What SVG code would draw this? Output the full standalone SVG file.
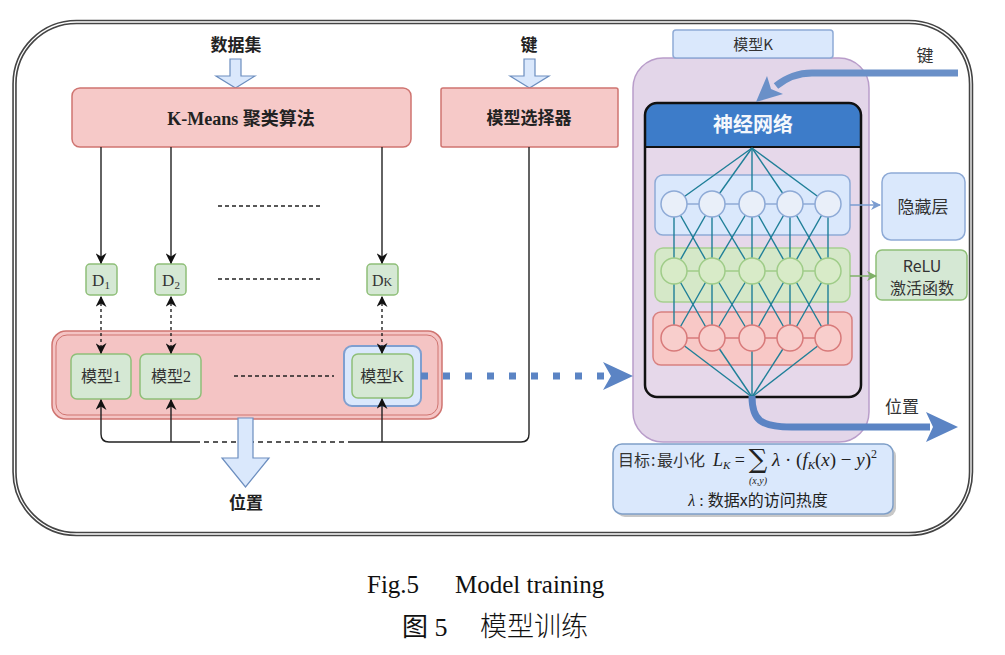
<svg xmlns="http://www.w3.org/2000/svg" width="1005" height="655" viewBox="0 0 1005 655">
<defs>
<style>
.cjkb{font-family:"Noto Sans CJK SC","Noto Sans",sans-serif;font-weight:bold;fill:#222}
.cjk{font-family:"Noto Sans CJK SC","Noto Sans",sans-serif;fill:#333}
.ser{font-family:"Liberation Serif","Noto Sans CJK SC",serif;fill:#333}
.pink{fill:#f6c9c8;stroke:#cf7470;stroke-width:1.5}
.green{fill:#d5e8d4;stroke:#8fbf78;stroke-width:1.5}
.blue{fill:#dae8fc;stroke:#8eaad6;stroke-width:1.5}
.hol{fill:#dae8fc;stroke:#6c8ebf;stroke-width:1.2}
.ln{stroke:#222;stroke-width:1.4;fill:none}
.nn{stroke:#1f7f98;stroke-width:1.4}
</style>
<marker id="ah" viewBox="0 0 10 10" refX="9" refY="5" markerWidth="11" markerHeight="11" orient="auto-start-reverse" markerUnits="userSpaceOnUse"><path d="M0,0 L10,5 L0,10 L3,5 z" fill="#111"/></marker>
<marker id="ahb" viewBox="0 0 10 10" refX="9" refY="5" markerWidth="10" markerHeight="10" orient="auto" markerUnits="userSpaceOnUse"><path d="M0,0 L10,5 L0,10 L3,5 z" fill="#7a9cd0"/></marker>
<marker id="ahg" viewBox="0 0 10 10" refX="9" refY="5" markerWidth="10" markerHeight="10" orient="auto" markerUnits="userSpaceOnUse"><path d="M0,0 L10,5 L0,10 L3,5 z" fill="#7fb068"/></marker>
</defs>
<rect width="1005" height="655" fill="#fff"/>

<g id="frame">
<rect x="14.5" y="22" width="956.5" height="512" rx="62" fill="none" stroke="#444" stroke-width="4.5"/>
<rect x="14.5" y="22" width="956.5" height="512" rx="62" fill="none" stroke="#fff" stroke-width="1.3"/>
</g>

<g id="label-dataset">
<text class="cjkb" x="236" y="51" font-size="17" text-anchor="middle">数据集</text>
<path class="hol" d="M230,59 L241,59 L241,76 L255,76 L235.5,88 L216,76 L230,76 Z"/>
</g>
<g id="label-key">
<text class="cjkb" x="529" y="51" font-size="17" text-anchor="middle">键</text>
<path class="hol" d="M524,59 L535,59 L535,76 L549,76 L529.5,88 L510,76 L524,76 Z"/>
</g>

<g id="kmeans">
<rect class="pink" x="72" y="88" width="339" height="59" rx="8"/>
<text x="241" y="125" font-size="18" text-anchor="middle" font-weight="bold" font-family="'Liberation Serif','Noto Sans CJK SC',serif" fill="#222">K-Means 聚类算法</text>
</g>
<g id="selector">
<rect class="pink" x="441" y="88" width="177" height="59" rx="2"/>
<text class="cjkb" x="529" y="124" font-size="17" text-anchor="middle">模型选择器</text>
</g>

<g id="d1"><rect class="green" x="86" y="264" width="31" height="31" rx="4"/><text class="ser" x="101" y="286" font-size="17" text-anchor="middle">D<tspan font-size="11" dy="3">1</tspan></text></g>
<g id="d2"><rect class="green" x="155" y="264" width="31" height="31" rx="4"/><text class="ser" x="171" y="286" font-size="17" text-anchor="middle">D<tspan font-size="11" dy="3">2</tspan></text></g>
<g id="dk"><rect class="green" x="367" y="264" width="31" height="31" rx="4"/><text class="ser" x="382" y="286" font-size="16" text-anchor="middle">D<tspan font-size="12">K</tspan></text></g>

<g id="models">
<rect x="52" y="331" width="390" height="88" rx="14" fill="#f4c4c4" stroke="#cf7470" stroke-width="1.5"/>
<rect x="56" y="335" width="382" height="80" rx="11" fill="none" stroke="#cf7470" stroke-width="1"/>
</g>
<g id="model1"><rect class="green" x="71" y="354" width="60" height="45" rx="6"/><text class="ser" x="101" y="382" font-size="16" text-anchor="middle">模型1</text></g>
<g id="model2"><rect class="green" x="140" y="354" width="61" height="45" rx="6"/><text class="ser" x="171" y="382" font-size="16" text-anchor="middle">模型2</text></g>
<g id="modelk">
<rect x="344" y="346" width="77" height="60" rx="8" fill="#dae8fc" stroke="#7f9fd0" stroke-width="2"/>
<rect class="green" x="352" y="354" width="61" height="44" rx="6"/>
<text class="ser" x="382" y="382" font-size="16" text-anchor="middle">模型K</text>
</g>

<g id="modelk-detail">
<rect x="633" y="58" width="236" height="384" rx="30" fill="#e3d6e9" stroke="#b99dca" stroke-width="1.5"/>
<rect class="blue" x="673" y="30" width="160" height="28" rx="3"/>
<text class="cjk" x="753" y="50" font-size="15" text-anchor="middle">模型K</text>
</g>

<g id="neural-network">
<rect x="645" y="103" width="216" height="294" rx="12" fill="#e6d8ea"/>
<path d="M645,147 L645,115 Q645,103 657,103 L849,103 Q861,103 861,115 L861,147 Z" fill="#3d7cc9"/>
<line x1="645" y1="147" x2="861" y2="147" stroke="#111" stroke-width="2"/>
<rect x="645" y="103" width="216" height="294" rx="12" fill="none" stroke="#111" stroke-width="2.5"/>
<text x="753" y="132" font-size="20" text-anchor="middle" font-weight="bold" font-family="'Noto Sans CJK SC',sans-serif" fill="#f4f7fc">神经网络</text>
<rect class="blue" x="655" y="175" width="195" height="60" rx="8"/>
<rect x="655" y="248" width="195" height="54" rx="8" fill="#d5e8c8" stroke="#a6d090" stroke-width="1.5"/>
<rect x="653" y="312" width="199" height="53" rx="8" fill="#f8c8c6" stroke="#d88080" stroke-width="1.5"/>
<g class="nn">
<line x1="752" y1="148" x2="674" y2="204"/><line x1="752" y1="148" x2="712" y2="204"/><line x1="752" y1="148" x2="752" y2="204"/><line x1="752" y1="148" x2="790" y2="204"/><line x1="752" y1="148" x2="828" y2="204"/>
<line x1="674" y1="204" x2="674" y2="271"/><line x1="674" y1="204" x2="712" y2="271"/>
<line x1="712" y1="204" x2="674" y2="271"/><line x1="712" y1="204" x2="712" y2="271"/><line x1="712" y1="204" x2="752" y2="271"/>
<line x1="752" y1="204" x2="712" y2="271"/><line x1="752" y1="204" x2="752" y2="271"/><line x1="752" y1="204" x2="790" y2="271"/>
<line x1="790" y1="204" x2="752" y2="271"/><line x1="790" y1="204" x2="790" y2="271"/><line x1="790" y1="204" x2="828" y2="271"/>
<line x1="828" y1="204" x2="790" y2="271"/><line x1="828" y1="204" x2="828" y2="271"/>
<line x1="674" y1="271" x2="674" y2="338"/><line x1="674" y1="271" x2="712" y2="338"/>
<line x1="712" y1="271" x2="674" y2="338"/><line x1="712" y1="271" x2="712" y2="338"/><line x1="712" y1="271" x2="752" y2="338"/>
<line x1="752" y1="271" x2="712" y2="338"/><line x1="752" y1="271" x2="752" y2="338"/><line x1="752" y1="271" x2="790" y2="338"/>
<line x1="790" y1="271" x2="752" y2="338"/><line x1="790" y1="271" x2="790" y2="338"/><line x1="790" y1="271" x2="828" y2="338"/>
<line x1="828" y1="271" x2="790" y2="338"/><line x1="828" y1="271" x2="828" y2="338"/>
<line x1="674" y1="338" x2="752" y2="397"/><line x1="712" y1="338" x2="752" y2="397"/><line x1="752" y1="338" x2="752" y2="397"/><line x1="790" y1="338" x2="752" y2="397"/><line x1="828" y1="338" x2="752" y2="397"/>
</g>
<g stroke="#8eaad6" stroke-width="1.5" fill="#e9eff9">
<line x1="674" y1="204" x2="828" y2="204"/>
<circle cx="674" cy="204" r="13"/><circle cx="712" cy="204" r="13"/><circle cx="752" cy="204" r="13"/><circle cx="790" cy="204" r="13"/><circle cx="828" cy="204" r="13"/>
</g>
<g stroke="#9fcc88" stroke-width="1.5" fill="#d8ebc8">
<line x1="674" y1="271" x2="828" y2="271"/>
<circle cx="674" cy="271" r="13"/><circle cx="712" cy="271" r="13"/><circle cx="752" cy="271" r="13"/><circle cx="790" cy="271" r="13"/><circle cx="828" cy="271" r="13"/>
</g>
<g stroke="#d87a7a" stroke-width="1.5" fill="#f8cecc">
<line x1="674" y1="338" x2="828" y2="338"/>
<circle cx="674" cy="338" r="13"/><circle cx="712" cy="338" r="13"/><circle cx="752" cy="338" r="13"/><circle cx="790" cy="338" r="13"/><circle cx="828" cy="338" r="13"/>
</g>
</g>

<g id="hidden-layer">
<rect class="blue" x="882" y="173" width="83" height="67" rx="9"/>
<text class="cjk" x="923" y="213" font-size="17" text-anchor="middle">隐藏层</text>
</g>
<g id="relu">
<rect class="green" x="876" y="250" width="91" height="50" rx="6"/>
<text class="cjk" x="922" y="272" font-size="16" text-anchor="middle">ReLU</text>
<text class="cjk" x="922" y="294" font-size="16" text-anchor="middle">激活函数</text>
</g>

<g id="connectors">
<line class="ln" x1="101" y1="147" x2="101" y2="263" marker-end="url(#ah)"/>
<line class="ln" x1="171" y1="147" x2="171" y2="263" marker-end="url(#ah)"/>
<line class="ln" x1="382" y1="147" x2="382" y2="263" marker-end="url(#ah)"/>
<line x1="218" y1="206" x2="320" y2="206" stroke="#222" stroke-width="1.3" stroke-dasharray="4 3"/>
<line x1="218" y1="279" x2="320" y2="279" stroke="#222" stroke-width="1.3" stroke-dasharray="4 3"/>
<line x1="234" y1="376" x2="334" y2="376" stroke="#222" stroke-width="1.3" stroke-dasharray="4 3"/>
<line class="ln" x1="101" y1="297" x2="101" y2="353" stroke-dasharray="3 3" marker-start="url(#ah)" marker-end="url(#ah)"/>
<line class="ln" x1="171" y1="297" x2="171" y2="353" stroke-dasharray="3 3" marker-start="url(#ah)" marker-end="url(#ah)"/>
<line class="ln" x1="382" y1="297" x2="382" y2="353" stroke-dasharray="3 3" marker-start="url(#ah)" marker-end="url(#ah)"/>
<path class="ln" d="M529,147 L529,434 Q529,442 521,442 L353,442"/>
<path class="ln" d="M353,442 L200,442" stroke-dasharray="5 4"/>
<path class="ln" d="M200,442 L109,442 Q101,442 101,434 L101,400" marker-end="url(#ah)"/>
<line class="ln" x1="171" y1="442" x2="171" y2="400" marker-end="url(#ah)"/>
<line class="ln" x1="382" y1="442" x2="382" y2="399" marker-end="url(#ah)"/>
<line x1="421" y1="376" x2="607" y2="376" stroke="#5b84c4" stroke-width="7" stroke-dasharray="7 15"/>
<path d="M633,376 L603,362 L611,376 L603,390 Z" fill="#5b84c4"/>
<line x1="850" y1="205" x2="880" y2="205" stroke="#7a9cd0" stroke-width="1.5" marker-end="url(#ahb)"/>
<line x1="850" y1="276" x2="876" y2="276" stroke="#7fb068" stroke-width="1.5" marker-end="url(#ahg)"/>
<path d="M958,73 L812,73 Q792,73 776,86" fill="none" stroke="#6a90c8" stroke-width="7"/>
<path d="M756,102 L767,76 L771,89 L783,94 Z" fill="#6a90c8"/>
<path d="M752,396 C752,420 760,427 792,427 L930,427" fill="none" stroke="#5b84c4" stroke-width="7"/>
<path d="M958,427 L926,412 L933,427 L926,442 Z" fill="#5b84c4"/>
</g>

<g id="output-left">
<path class="hol" d="M238,418 L253,418 L253,458 L269,458 L245.5,487 L222,458 L238,458 Z" fill="#cfe2f6"/>
<text class="cjkb" x="246" y="509" font-size="17" text-anchor="middle">位置</text>
</g>

<g id="labels-right">
<text class="cjk" x="925" y="62" font-size="17" text-anchor="middle">键</text>
<text class="cjk" x="902" y="413" font-size="17" text-anchor="middle">位置</text>
</g>

<g id="objective">
<rect x="616" y="447" width="280" height="70" rx="9" fill="#c8c8c8"/>
<rect x="613" y="444" width="280" height="70" rx="9" fill="#dae8fc" stroke="#7f9fc8" stroke-width="1.5"/>
<text class="cjk" font-size="16" y="466" fill="#222"><tspan x="618">目标</tspan><tspan x="651">:</tspan><tspan x="657">最小化</tspan></text>
<text x="713" y="466" font-size="18" font-style="italic" font-family="'Liberation Serif',serif" fill="#222">L<tspan font-size="11" dy="3">K</tspan><tspan dy="-3" font-style="normal"> =</tspan></text>
<text x="758" y="468" font-size="26" text-anchor="middle" font-family="'DejaVu Serif','Liberation Serif',serif" fill="#222">∑</text>
<text x="758" y="484" font-size="10" text-anchor="middle" font-style="italic" font-family="'Liberation Serif',serif" fill="#222">(x,y)</text>
<text x="772" y="466" font-size="19" font-family="'Liberation Serif',serif" fill="#222"><tspan font-style="italic">λ</tspan> · (<tspan font-style="italic">f</tspan><tspan font-size="11" dy="3" font-style="italic">K</tspan><tspan dy="-3">(</tspan><tspan font-style="italic">x</tspan>) − <tspan font-style="italic">y</tspan>)<tspan font-size="12" dy="-8">2</tspan></text>
<text x="758" y="506" font-size="16" text-anchor="middle" font-family="'Liberation Serif','Noto Sans CJK SC',serif" fill="#222"><tspan font-style="italic">λ</tspan> : <tspan font-family="'Noto Sans CJK SC',sans-serif">数据x的访问热度</tspan></text>
</g>

<g id="caption">
<text x="367" y="593" font-size="25" font-family="'Liberation Serif',serif" fill="#111">Fig.5</text>
<text x="455" y="593" font-size="25" font-family="'Liberation Serif',serif" fill="#111">Model training</text>
<text x="402" y="636" font-size="26" font-family="'Liberation Serif','Noto Sans CJK SC',serif" fill="#111">图 5</text>
<text x="480" y="636" font-size="27" font-family="'Noto Sans CJK SC',sans-serif" font-weight="300" fill="#111">模型训练</text>
</g>
</svg>
